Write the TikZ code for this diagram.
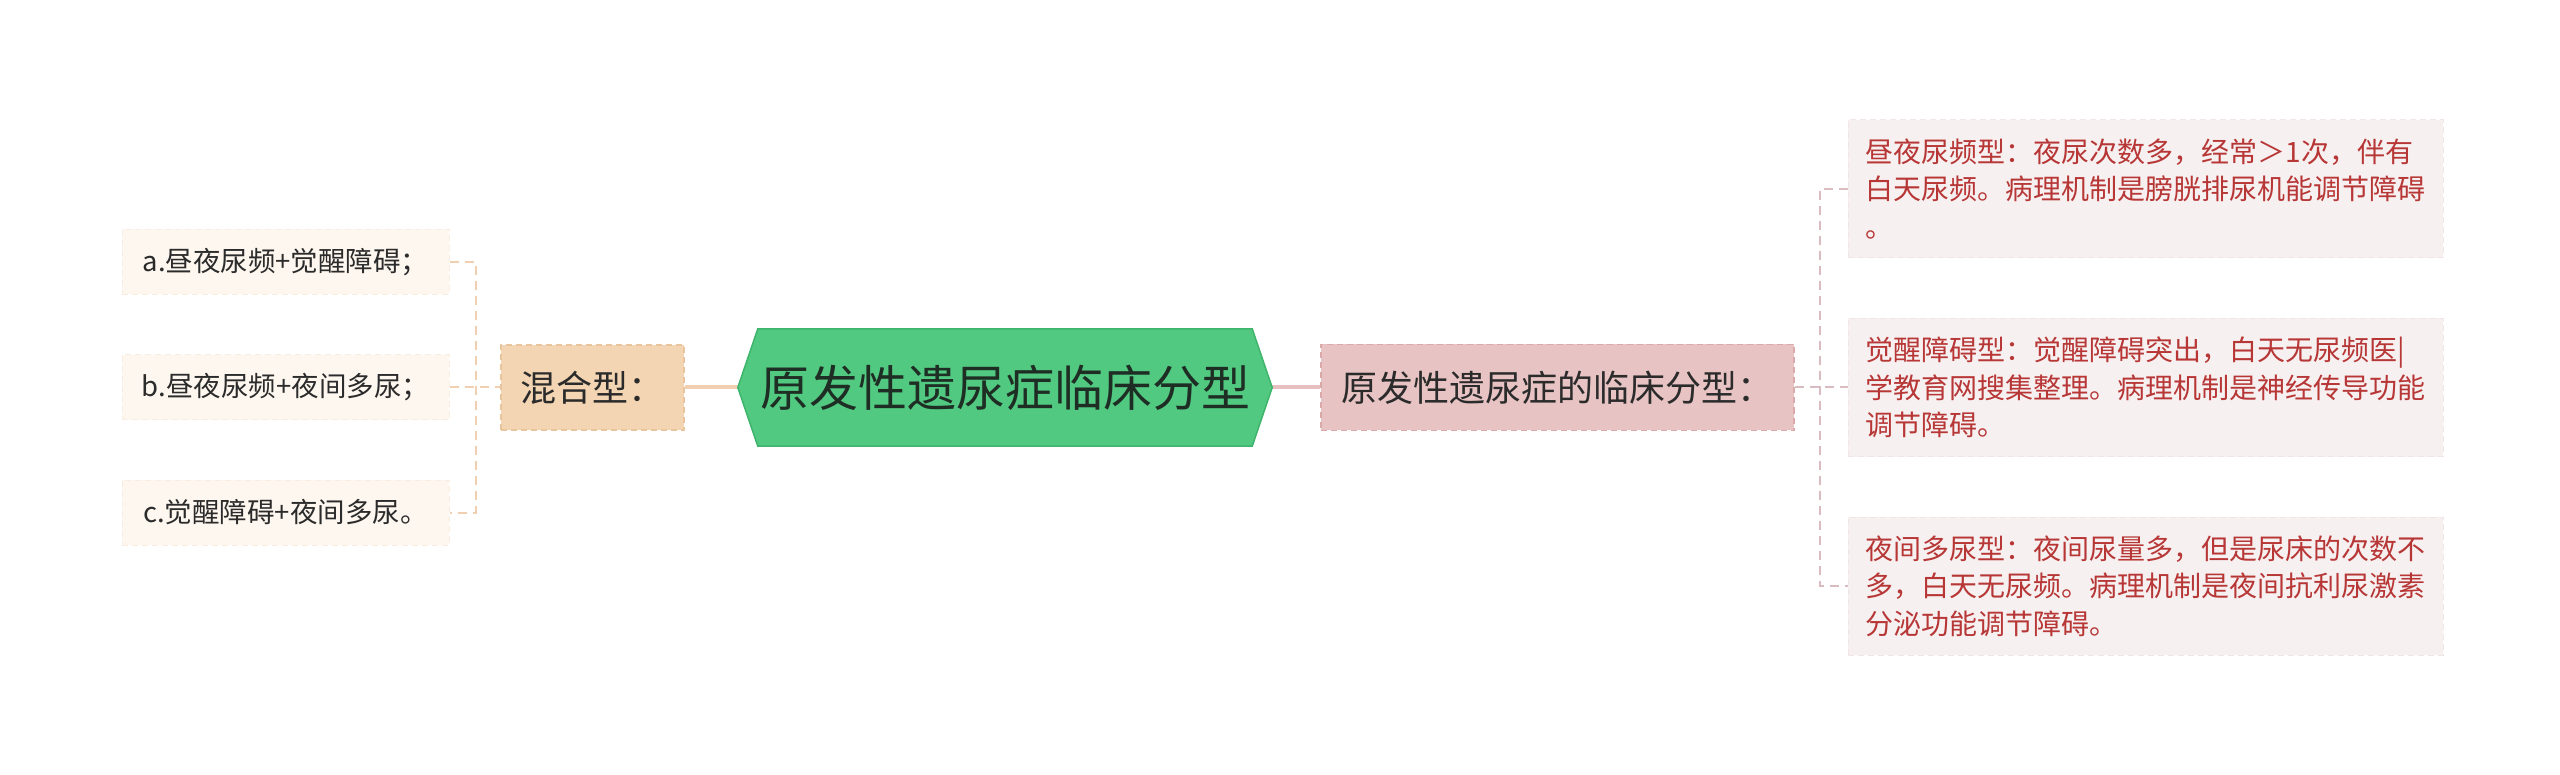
\documentclass[tikz,border=0pt]{standalone}
\usepackage{fontspec}
\setmainfont{Noto Sans CJK SC}
\usetikzlibrary{backgrounds}
\definecolor{hexfill}{HTML}{52C981}
\definecolor{hexborder}{HTML}{3FB46C}
\definecolor{hextext}{HTML}{1E2E24}
\definecolor{tanfill}{HTML}{F3D5B3}
\definecolor{tanborder}{HTML}{E9C59E}
\definecolor{pinkfill}{HTML}{E8C3C3}
\definecolor{pinkborder}{HTML}{DAAAAA}
\definecolor{creamfill}{HTML}{FDF7EF}
\definecolor{creamborder}{HTML}{F8EDE0}
\definecolor{rosefill}{HTML}{F7F0F0}
\definecolor{roseborder}{HTML}{F1E5E5}
\definecolor{redtext}{HTML}{B73636}
\definecolor{darktext}{HTML}{2B2B2B}
\definecolor{tanline}{HTML}{F0D0B0}
\definecolor{pinkline}{HTML}{E6C0C0}
\definecolor{pinkdashc}{HTML}{D9BCC0}
\begin{document}
\begin{tikzpicture}[x=1pt,y=-1pt,
  hexlabel/.style={inner sep=0pt, minimum width=534pt, minimum height=117pt,
    text=hextext, font=\fontsize{49}{58}\selectfont},
  midbox/.style={inner sep=0pt, fill=#1fill, draw=#1border, line width=1.2pt,
    dash pattern=on 6pt off 4pt, text=darktext, font=\fontsize{36}{42}\selectfont},
  leafbox/.style={inner sep=0pt, minimum width=327pt, minimum height=65pt,
    fill=creamfill, draw=creamborder, dash pattern=on 6pt off 4pt, line width=1pt,
    text=darktext, font=\fontsize{27.5}{32}\selectfont},
  notebox/.style={inner sep=0pt, minimum width=595pt, minimum height=138pt,
    fill=rosefill, draw=roseborder, dash pattern=on 6pt off 4pt, line width=1pt,
    text=redtext, align=left, font=\fontsize{28}{37.5}\selectfont},
  tanconn/.style={draw=tanline, line width=4pt},
  pinkconn/.style={draw=pinkline, line width=4pt},
  tandash/.style={draw=tanline, line width=2pt, dash pattern=on 9pt off 6pt},
  pinkdash/.style={draw=pinkdashc, line width=2pt, dash pattern=on 9pt off 6pt}
]
\useasboundingbox (0,0) rectangle (2560,775);

\node[hexlabel] (hex) at (1005,387.5) {原发性遗尿症临床分型};

\node[midbox=tan, minimum width=183pt, minimum height=85pt] (mix) at (592.5,387.5) {混合型：};
\node[midbox=pink, minimum width=473pt, minimum height=86pt] (pink) at (1557.5,387.5) {原发性遗尿症的临床分型：};

\node[leafbox] (a) at (285.5,262) {a.昼夜尿频+觉醒障碍；};
\node[leafbox] (b) at (285.5,387.5) {b.昼夜尿频+夜间多尿；};
\node[leafbox] (c) at (285.5,512.5) {c.觉醒障碍+夜间多尿。};

\node[notebox] (r1) at (2145.5,189) {昼夜尿频型：夜尿次数多，经常＞1次，伴有\\白天尿频。病理机制是膀胱排尿机能调节障碍\\。};
\node[notebox] (r2) at (2145.5,387.5) {觉醒障碍型：觉醒障碍突出，白天无尿频医|\\学教育网搜集整理。病理机制是神经传导功能\\调节障碍。};
\node[notebox] (r3) at (2145.5,586) {夜间多尿型：夜间尿量多，但是尿床的次数不\\多，白天无尿频。病理机制是夜间抗利尿激素\\分泌功能调节障碍。};

\begin{scope}[on background layer]
\fill[white] (0,0) rectangle (2560,775);
\draw[tanconn] (mix.east) -- (hex.west);
\draw[pinkconn] (hex.east) -- (pink.west);
\draw[tandash] (b.east) -- (mix.west);
\draw[tandash] (a.east) -- ++(26,0) |- (c.east);
\draw[pinkdash] (pink.east) -- (r2.west);
\draw[pinkdash] (r1.west) -- ++(-28,0) |- (r3.west);
\fill[hexfill, draw=hexborder, line width=1.5pt]
  (hex.west) -- ([xshift=20pt]hex.north west) -- ([xshift=-20pt]hex.north east)
  -- (hex.east) -- ([xshift=-20pt]hex.south east) -- ([xshift=20pt]hex.south west) -- cycle;
\end{scope}
\end{tikzpicture}
\end{document}
